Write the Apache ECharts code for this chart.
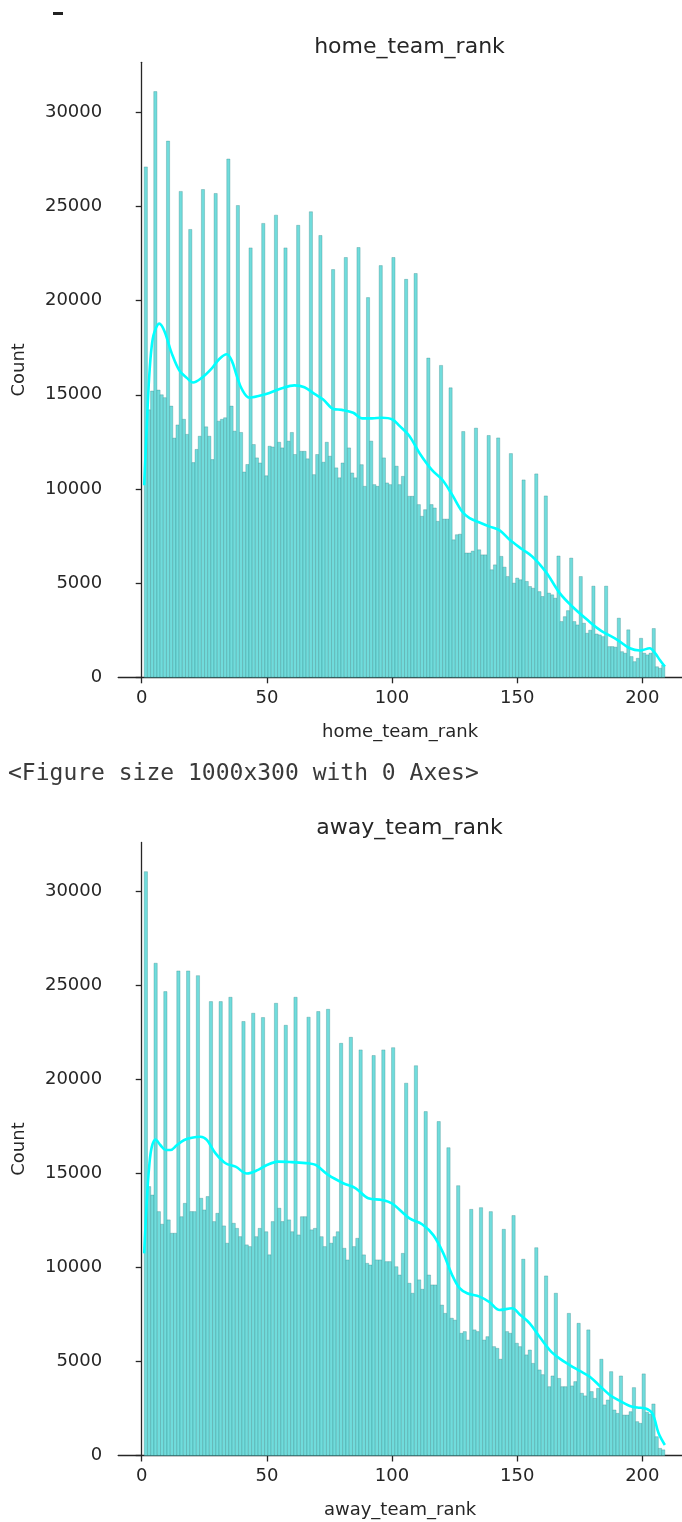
<!DOCTYPE html>
<html>
<head>
<meta charset="utf-8">
<script src="https://cdn.jsdelivr.net/npm/echarts@6/dist/echarts.min.js"></script>
<style>
  html, body { margin: 0; padding: 0; background: #fff; }
  #main { width: 682px; height: 1522px; }
</style>
</head>
<body>
<div id="main"></div>
<script>
// rank range of both columns, bins are spread evenly over it
var RANK_MIN = 1;
var RANK_MAX = 209;

var xTicks = [0, 50, 100, 150, 200];
var yTicks = [0, 5000, 10000, 15000, 20000, 25000, 30000];

// histogram bar heights, left to right (164 bins)
var homeBinCounts = [
  27100, 14200, 15200, 31100, 15250, 15000, 14850, 28470, 14400, 12700,
  13400, 25800, 13700, 12900, 23780, 11400, 12100, 12800, 25900, 13300,
  12800, 11560, 25690, 13600, 13700, 13780, 27520, 14400, 13070, 25050,
  13000, 10900, 11300, 22800, 12360, 11650, 11380, 24100, 10700, 12270,
  12230, 24540, 12480, 12180, 22800, 12540, 13000, 11830, 24000, 12000,
  12000, 11600, 24720, 10760, 11830, 23460, 11420, 12480, 11740, 21650,
  11120, 10590, 11380, 22290, 12180, 10850, 10590, 22820, 11290, 10140,
  20160, 12540, 10230, 10140, 21860, 11650, 10320, 10230, 22290, 11210,
  10230, 10670, 21130, 9610, 9610, 21440, 9170, 8550, 8900, 16950,
  9170, 8990, 8280, 16560, 8400, 8400, 15370, 7300, 7570, 7600,
  13050, 6600, 6600, 6700, 13230, 6770, 6500, 6500, 12840, 5710,
  5970, 12710, 6420, 5850, 5350, 11880, 5000, 5270, 5180, 10480,
  5090, 4820, 4730, 10800, 4550, 4290, 9630, 4470, 4380, 4200,
  6440, 2960, 3220, 3540, 6330, 2960, 2780, 5350, 2870, 2340,
  2500, 4840, 2300, 2250, 2160, 4840, 1630, 1630, 1600, 3140,
  1360, 1280, 2520, 1100, 830, 1010, 2070, 1280, 1190, 1280,
  2590, 560, 480, 650
];

// (160 bins)
var awayBinCounts = [
  31050, 14300, 13850, 26180, 12970, 12300, 24670, 12530, 11820, 11820,
  25770, 12700, 13410, 25770, 12970, 12970, 25520, 13680, 13060, 13770,
  24140, 12440, 12880, 24140, 12210, 11290, 24370, 12350, 12080, 11640,
  23080, 11200, 11110, 23520, 11640, 12080, 23290, 11900, 10670, 12440,
  24050, 13150, 12440, 22880, 12530, 11900, 24370, 11730, 12700, 12700,
  23310, 12000, 12080, 23610, 11640, 11110, 23730, 11290, 11640, 11900,
  21920, 11020, 10400, 22240, 11110, 11550, 21570, 10670, 10220, 10130,
  21270, 10400, 10400, 21570, 10310, 10310, 21690, 10040, 9600, 10750,
  19800, 9160, 8630, 20730, 9340, 8840, 18290, 9600, 9070, 9070,
  17760, 8000, 7560, 16370, 7300, 7200, 14350, 6500, 6590, 6140,
  13090, 6680, 6590, 13180, 6140, 6320, 12970, 5790, 5700, 5120,
  12030, 6590, 6500, 12760, 5970, 5790, 10440, 5350, 5610, 4900,
  11050, 4550, 4300, 9550, 3660, 4230, 8630, 4100, 3660, 3660,
  7560, 3700, 3930, 7030, 3310, 3170, 6680, 3400, 3040, 3570,
  5120, 2690, 2950, 4460, 2420, 2240, 4230, 2150, 2150, 2330,
  3610, 1800, 1710, 4340, 2300, 2200, 2740, 1000, 380, 300
];

// kde curves
var homeKdeX = [1, 2, 3, 4, 5, 7, 9, 12, 15, 18,
  20.5, 24, 28, 31, 34, 36, 38, 40, 43, 47,
  51, 56, 61, 65, 69, 72.5, 76.5, 80, 84.5, 88,
  92, 96, 100, 103, 107, 111, 116, 120, 124, 128,
  131, 135, 139, 143, 147, 152, 156, 159, 162, 167,
  172, 178, 183, 190, 195, 199, 203, 205, 207, 209];
var homeKdeY = [10200, 13300, 16000, 17600, 18300, 18780, 18400, 17200, 16300, 15900,
  15650, 15900, 16400, 16900, 17150, 16800, 16000, 15300, 14850, 14950,
  15100, 15350, 15500, 15400, 15050, 14750, 14250, 14200, 14050, 13750,
  13750, 13780, 13700, 13350, 12800, 11900, 11000, 10500, 9700, 8800,
  8450, 8220, 8000, 7800, 7300, 6800, 6420, 6000, 5500, 4470,
  3760, 3050, 2520, 1990, 1540, 1420, 1540, 1300, 920, 570];

var awayKdeX = [1, 2, 3, 4, 5.5, 7.5, 9.5, 11.5, 14, 17,
  20, 23.5, 26, 29.5, 33.5, 37.5, 42, 46.5, 50, 54.5,
  60, 66.5, 69.5, 74.5, 80.5, 85.5, 90.5, 96, 100, 107,
  112, 116.5, 120.5, 124, 127, 130, 135, 139, 143, 148,
  151, 155, 159, 163, 167, 171, 175, 179, 183, 187,
  191, 195, 198, 201, 204, 206.5, 209];
var awayKdeY = [10750, 13500, 15400, 16400, 16800, 16500, 16250, 16250, 16500, 16780,
  16900, 16950, 16780, 16070, 15540, 15360, 15000, 15190, 15450, 15630,
  15600, 15540, 15450, 14920, 14480, 14210, 13680, 13590, 13400, 12610,
  12300, 11720, 10750, 9600, 8900, 8630, 8450, 8150, 7740, 7830,
  7500, 7030, 6300, 5610, 5150, 4810, 4500, 4190, 3700, 3220,
  2900, 2630, 2550, 2510, 2240, 1180, 560];


var FONT = 'DejaVu Sans';
var INK = '#262626';
var BAR_FILL = '#70dcdc';
var BAR_EDGE = 'rgba(45, 125, 125, 0.5)';
var KDE_COLOR = '#00ffff';

// [start, end, count] for every bin
function binData(counts) {
  var step = (RANK_MAX - RANK_MIN) / counts.length;
  return counts.map(function (c, i) {
    return [RANK_MIN + i * step, RANK_MIN + (i + 1) * step, c];
  });
}

function zip(xs, ys) {
  return xs.map(function (x, i) { return [x, ys[i]]; });
}

function renderBin(params, api) {
  var top = api.coord([api.value(0), api.value(2)]);
  var bottom = api.coord([api.value(1), 0]);
  return {
    type: 'rect',
    shape: { x: top[0], y: top[1], width: bottom[0] - top[0], height: bottom[1] - top[1] },
    style: { fill: BAR_FILL, stroke: BAR_EDGE, lineWidth: 0.6 }
  };
}

// the axes run past the right edge of the picture, so max is where the page ends
function xAxisFor(idx, name) {
  return {
    type: 'value', gridIndex: idx, min: -9.4, max: 215.85,
    name: name, nameLocation: 'middle', nameGap: 46,
    nameTextStyle: { fontFamily: FONT, fontSize: 18, color: INK },
    axisLine: { lineStyle: { color: INK, width: 1.3 } },
    axisTick: { show: true, length: 6, customValues: xTicks, lineStyle: { color: INK, width: 1.3 } },
    axisLabel: { customValues: xTicks, margin: 12, fontFamily: FONT, fontSize: 18, color: INK },
    splitLine: { show: false }
  };
}

function yAxisFor(idx, max) {
  return {
    type: 'value', gridIndex: idx, min: 0, max: max,
    name: 'Count', nameLocation: 'middle', nameGap: 90,
    nameTextStyle: { fontFamily: FONT, fontSize: 18, color: INK },
    axisLine: { show: true, lineStyle: { color: INK, width: 1.3 } },
    axisTick: { show: true, length: 6, customValues: yTicks, lineStyle: { color: INK, width: 1.3 } },
    axisLabel: {
      customValues: yTicks, margin: 16, fontFamily: FONT, fontSize: 18, color: INK,
      formatter: function (v) { return String(v); }
    },
    splitLine: { show: false }
  };
}

var chart = echarts.init(document.getElementById('main'), null, { renderer: 'canvas' });

var option = {
  backgroundColor: '#ffffff',
  animation: false,
  title: [
    { text: 'home_team_rank', left: 404.5, top: 31, textAlign: 'center',
      textStyle: { fontFamily: FONT, fontSize: 22, fontWeight: 'normal', color: INK } },
    { text: 'away_team_rank', left: 404.5, top: 812, textAlign: 'center',
      textStyle: { fontFamily: FONT, fontSize: 22, fontWeight: 'normal', color: INK } }
  ],
  grid: [
    { left: 118.2, top: 62.3, right: 0, height: 615 },
    { left: 118.2, top: 842.5, right: 0, height: 613 }
  ],
  xAxis: [xAxisFor(0, 'home_team_rank'), xAxisFor(1, 'away_team_rank')],
  yAxis: [yAxisFor(0, 32655), yAxisFor(1, 32600)],
  graphic: [
    // leftover dash from the cell above
    { type: 'rect', left: 53, top: 12, shape: { width: 10, height: 3 }, style: { fill: '#222' } },
    { type: 'text', left: 8, top: 763,
      style: { text: '<Figure size 1000x300 with 0 Axes>', font: '23px "DejaVu Sans Mono"', fill: '#3a3a3a' } }
  ],
  series: [
    { type: 'custom', xAxisIndex: 0, yAxisIndex: 0, renderItem: renderBin,
      encode: { x: [0, 1], y: 2 }, data: binData(homeBinCounts) },
    { type: 'line', xAxisIndex: 0, yAxisIndex: 0, data: zip(homeKdeX, homeKdeY),
      smooth: 0.35, showSymbol: false, z: 5, lineStyle: { color: KDE_COLOR, width: 2.6 } },
    { type: 'custom', xAxisIndex: 1, yAxisIndex: 1, renderItem: renderBin,
      encode: { x: [0, 1], y: 2 }, data: binData(awayBinCounts) },
    { type: 'line', xAxisIndex: 1, yAxisIndex: 1, data: zip(awayKdeX, awayKdeY),
      smooth: 0.35, showSymbol: false, z: 5, lineStyle: { color: KDE_COLOR, width: 2.6 } }
  ]
};

chart.setOption(option);
</script>
</body>
</html>
